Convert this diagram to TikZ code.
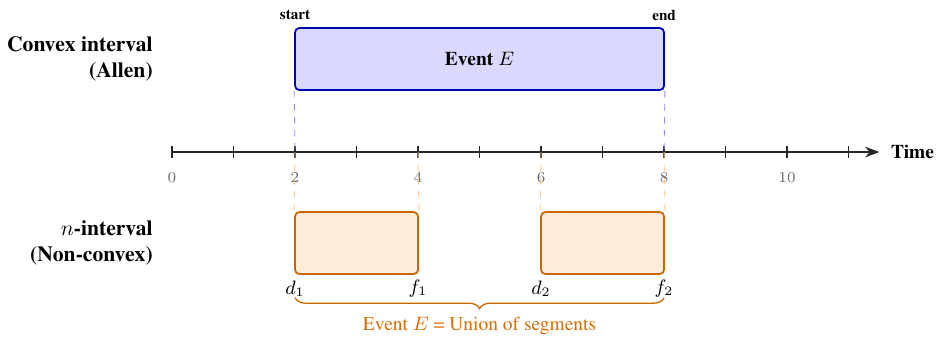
\documentclass[tikz,border=0pt]{standalone}
\usepackage[T1]{fontenc}
\usepackage{times}
\usetikzlibrary{arrows.meta, positioning, decorations.pathreplacing}

\begin{document}
\begin{tikzpicture}[>=Stealth, font=\small,
    convex/.style={rectangle, rounded corners=2pt, draw=blue!70!black, thick,
      fill=blue!15, minimum height=1.008cm, minimum width=6cm, font=\small\bfseries},
    segment/.style={rectangle, rounded corners=2pt, draw=orange!80!black, thick,
      fill=orange!15, minimum height=1.008cm, minimum width=2cm},
    rowlabel/.style={align=right, anchor=east, font=\normalsize\bfseries},
    bound/.style={font=\scriptsize\bfseries, inner sep=1pt},
    endpt/.style={font=\small, inner sep=1pt},
    ticklab/.style={font=\scriptsize, text=black!60, inner sep=1pt},
    guide/.style={dashed, thin},
    axis/.style={thick, black!85}]

  \useasboundingbox (-2.797,-3.041) rectangle (12.47,2.472);

  % time axis with ticks
  \draw[axis, ->] (0,0) -- (11.5,0) coordinate (tip);
  \node[anchor=west, font=\small\bfseries, inner sep=1pt] (time) at (11.65,0) {Time};
  \foreach \t in {0,...,11}
    \draw[axis] (\t,0.1) -- (\t,-0.1) coordinate (t\t);
  \foreach \t in {0,2,...,10}
    \node[ticklab] (lab\t) at (\t,-0.41) {$\t$};
  \foreach \t in {2,4,6,8}
    \coordinate (a\t) at (\t,0);

  % convex interval (Allen)
  \node[rowlabel] (convlab) at (-0.19,1.512) {Convex interval\\(Allen)};
  \node[convex] (ev) at (5,1.512) {Event $E$};
  \node[bound] (start) at (2,2.228) {start};
  \node[bound] (end) at (8,2.228) {end};
  \draw[guide, blue!45] (ev.south west) -- (a2);
  \draw[guide, blue!45] (ev.south east) -- (a8);

  % n-interval (non-convex)
  \node[rowlabel] (nlab) at (-0.19,-1.48) {$n$-interval\\(Non-convex)};
  \node[segment] (s1) at (3,-1.48) {};
  \node[segment] (s2) at (7,-1.48) {};
  \draw[guide, orange!45] (a2) -- (s1.north west);
  \draw[guide, orange!45] (a4) -- (s1.north east);
  \draw[guide, orange!45] (a6) -- (s2.north west);
  \draw[guide, orange!45] (a8) -- (s2.north east);

  \node[endpt] (d1) at (2,-2.22) {$d_1$};
  \node[endpt] (f1) at (4,-2.22) {$f_1$};
  \node[endpt] (d2) at (6,-2.22) {$d_2$};
  \node[endpt] (f2) at (8,-2.22) {$f_2$};

  % union brace
  \coordinate (bl) at (2,-2.37);
  \coordinate (br) at (8,-2.37);
  \draw[orange!80!black, semithick, decorate,
    decoration={brace, mirror, amplitude=5pt}] (bl) -- (br);
  \node[text=orange!85!black, font=\small] (union) at (5,-2.83)
    {Event $E$ = Union of segments};

\end{tikzpicture}
\end{document}
